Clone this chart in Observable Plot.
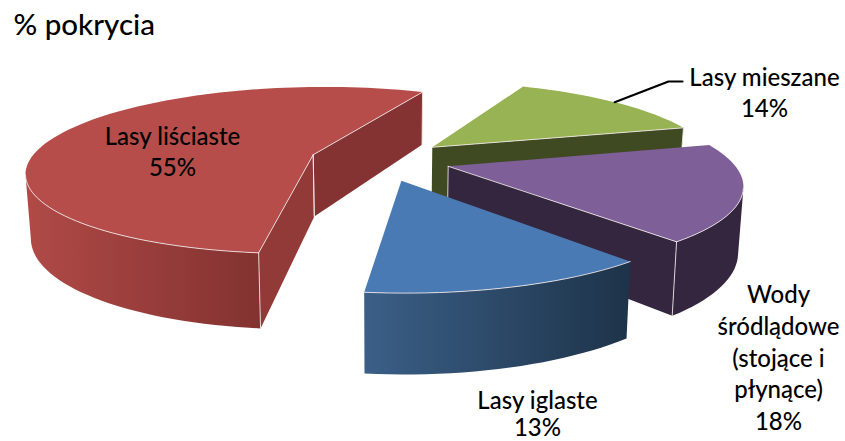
<!DOCTYPE html>
<html><head><meta charset="utf-8">
<script src="https://cdn.jsdelivr.net/npm/d3@7"></script>
<script src="https://cdn.jsdelivr.net/npm/@observablehq/plot@0.6"></script>
<style>
html,body{margin:0;padding:0;background:#fff}
[aria-label="shadow"]{filter:blur(2.5px)}
[aria-label="labels"] text,[aria-label="chart title"] text{stroke:#000;stroke-width:.45px}
</style></head><body>
<script>
// Data
const categories = ["Lasy liściaste","Lasy mieszane","Wody śródlądowe (stojące i płynące)","Lasy iglaste"];
const percentLabels = [55,14,18,13];
const firstSliceStart = 186.4; // degrees clockwise from the far side of the pie

// Label text
const chartTitle = "% pokrycia";
const labelLines = [["Lasy liściaste"],["Lasy mieszane"],["Wody","śródlądowe","(stojące i","płynące)"],["Lasy iglaste"]];

// Look
const topColors = ["#b64d4a","#97b354","#7e5f98","#4a7ab3"];
const sideColors = ["#923a38","#3f4a22","#35263f","#27415f"];
const rimLight = ["#b04a47","#3f4a22","#35263f","#3b5f87"];
const rimDark = ["#823230","#3f4a22","#35263f","#1d3349"];
const backSideColor = ["#843332",null,null,null];
const font = "Lato, Carlito, 'Open Sans', sans-serif";

// Pie model and camera
const radius = 290, explode = 72, centerX = -5.5, centerDepth = 1545.5;
const horizonY = -280, vanishX = 385, perspective = 679500, thickness = 0.142, lean = 0.015;

const rad = d => d * Math.PI / 180;
let cursor = firstSliceStart;
const slices = categories.map((name,i) => {
  const a0 = cursor, a1 = cursor + percentLabels[i]*3.6; cursor = a1;
  const mid = (a0+a1)/2;
  return {i,name,a0,a1,mid,
    ox: centerX + explode*Math.sin(rad(mid)),
    oz: centerDepth + explode*Math.cos(rad(mid))};
});
function screen(wx,wz,down){
  const v = perspective/wz;
  let x = vanishX + wx*(v/450), y = horizonY + v;
  if (down){ y += thickness*v; x += (vanishX-x)*lean; }
  return {x,y};
}
const apex = (s,down) => screen(s.ox,s.oz,down);
const rimPt = (s,a,down) => screen(s.ox+radius*Math.sin(rad(a)), s.oz+radius*Math.cos(rad(a)), down);
const angles = (a0,a1) => { const r=[]; const n=Math.max(2,Math.ceil((a1-a0)/2)); for(let k=0;k<=n;k++) r.push(a0+(a1-a0)*k/n); return r; };
function rimVisible(s,a){ // camera looks from depth 0
  const px=s.ox+radius*Math.sin(rad(a)), pz=s.oz+radius*Math.cos(rad(a));
  return (-px)*Math.sin(rad(a)) + (-pz)*Math.cos(rad(a)) > 0;
}
function sideVisible(s,a,sign){
  const n=a+sign*90;
  return (-s.ox)*Math.sin(rad(n)) + (-s.oz)*Math.cos(rad(n)) > 0;
}
const poly = (pts,fill) => Plot.line(pts,{x:"x",y:"y",fill,stroke:"none",curve:"linear"});
const edge = (pts) => Plot.line(pts,{x:"x",y:"y",stroke:"#f1e9e9",strokeWidth:1,strokeOpacity:.85,curve:"linear"});
const shadow = (pts) => Plot.line(pts,{x:"x",y:"y",stroke:"#8a8a8a",strokeWidth:4,curve:"linear",ariaLabel:"shadow"});

function sliceMarks(s){
  const m=[];
  const rimAngles = angles(s.a0,s.a1).filter(a=>rimVisible(s,a));
  const rimTop = rimAngles.map(a=>rimPt(s,a,false)), rimBot = rimAngles.map(a=>rimPt(s,a,true));
  const startVis = sideVisible(s,s.a0,-1), endVis = sideVisible(s,s.a1,1);
  const radial = (a) => [apex(s,false),rimPt(s,a,false),rimPt(s,a,true),apex(s,true)];
  if (rimBot.length) m.push(shadow(rimBot));
  if (startVis) m.push(shadow([apex(s,true),rimPt(s,s.a0,true)]));
  if (endVis) m.push(shadow([apex(s,true),rimPt(s,s.a1,true)]));
  if (endVis) m.push(poly(radial(s.a1), backSideColor[s.i]||sideColors[s.i]));
  if (rimTop.length) m.push(poly([...rimTop,...rimBot.slice().reverse()],`url(#rim${s.i})`));
  if (startVis) m.push(poly(radial(s.a0), sideColors[s.i]));
  m.push(poly([apex(s,false),...angles(s.a0,s.a1).map(a=>rimPt(s,a,false))], topColors[s.i]));
  if (rimTop.length) m.push(edge(rimTop));
  if (startVis){ m.push(edge([apex(s,false),rimPt(s,s.a0,false)])); m.push(edge([rimPt(s,s.a0,false),rimPt(s,s.a0,true)])); m.push(edge([apex(s,false),apex(s,true)])); }
  if (endVis){ m.push(edge([apex(s,false),rimPt(s,s.a1,false)])); m.push(edge([rimPt(s,s.a1,false),rimPt(s,s.a1,true)])); if(s.i!==1) m.push(edge([apex(s,false),apex(s,true)])); }
  return m;
}
const defs = () => {
  const d = d3.create("svg:defs");
  slices.forEach(s=>{
    const g=d.append("linearGradient").attr("id",`rim${s.i}`).attr("x1",0).attr("x2",1).attr("y1",0).attr("y2",0);
    g.append("stop").attr("offset","0%").attr("stop-color",rimLight[s.i]);
    g.append("stop").attr("offset","100%").attr("stop-color",rimDark[s.i]);
  });
  return d.node();
};

// Painter's order: back to front
const paintOrder = [1,2,3,0];

// Label layout (pixel anchors, kept apart from the data)
const labelAnchors = [{x:172,y:150,lh:1.32},{x:764,y:91,lh:1.32},{x:778,y:356,lh:1.32},{x:537,y:413,lh:1.15}];
const labelRows = categories.map((c,i)=>({text:[...labelLines[i],percentLabels[i]+"%"].join("\n"),...labelAnchors[i]}));
const leader = [rimPt(slices[1],slices[1].mid,false),{x:668,y:81},{x:682,y:81}];
const labelMark = (rows,lineHeight) => Plot.text(rows,{x:"x",y:"y",text:"text",fontSize:24,lineHeight,fontFamily:font,fontWeight:500,fill:"#000",textAnchor:"middle",ariaLabel:"labels"});

const plot = Plot.plot({
  width:845,height:441,margin:0,
  style:{background:"transparent"},
  x:{domain:[0,845],range:[0,845],axis:null},
  y:{domain:[0,441],range:[0,441],axis:null},
  marks:[
    defs,
    ...paintOrder.flatMap(i=>sliceMarks(slices[i])),
    Plot.line(leader,{x:"x",y:"y",stroke:"#000",strokeWidth:2.2,curve:"linear"}),
    labelMark(labelRows.filter(d=>d.lh===1.32),1.32),
    labelMark(labelRows.filter(d=>d.lh===1.15),1.15),
    Plot.text([chartTitle],{x:[13],y:[25],text:d=>d,fontSize:29.5,fontFamily:font,fontWeight:500,fill:"#000",textAnchor:"start",ariaLabel:"chart title"})
  ]
});
document.body.appendChild(plot);
</script>
</body></html>
